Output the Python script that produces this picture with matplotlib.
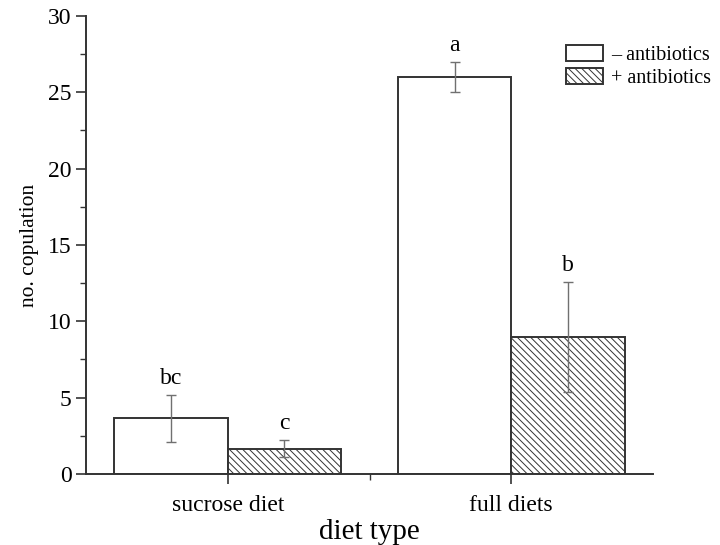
import numpy as np
import matplotlib
matplotlib.use("Agg")
import matplotlib.pyplot as plt
from matplotlib.ticker import MultipleLocator, FixedLocator

# data
groups = ["sucrose diet", "full diets"]
no_abx = [3.65, 26.0]
no_abx_err = [1.53, 1.0]
with_abx = [1.65, 9.0]
with_abx_err = [0.57, 3.6]
letters_no = ["bc", "a"]
letters_with = ["c", "b"]

plt.rcParams['font.family'] = ['Liberation Serif', 'DejaVu Serif']
plt.rcParams['hatch.linewidth'] = 0.7
plt.rcParams['hatch.color'] = '#555555'

fig = plt.figure(figsize=(7.2, 5.45), dpi=100)
ax = fig.add_axes([0.1194, 0.1303, 0.7876, 0.8404])

x = np.array([1, 2])
w = 0.4
ec = '#333333'
b1 = ax.bar(x - w/2, no_abx, w, color='white', edgecolor=ec, linewidth=1.4,
            label='\u2013 antibiotics')
b2 = ax.bar(x + w/2, with_abx, w, color='white', edgecolor=ec, linewidth=1.4,
            hatch='\\' * 5, label='+ antibiotics')
ax.errorbar(x - w/2, no_abx, yerr=no_abx_err, fmt='none', ecolor='#707070',
            elinewidth=1.0, capsize=3.6, capthick=1.0)
ax.errorbar(x + w/2, with_abx, yerr=with_abx_err, fmt='none', ecolor='#707070',
            elinewidth=1.0, capsize=3.6, capthick=1.0)

for xi, v, e, t in zip(x - w/2, no_abx, no_abx_err, letters_no):
    ax.text(xi, v + e + 0.4, t, ha='center', va='bottom', fontsize=17)
for xi, v, e, t in zip(x + w/2, with_abx, with_abx_err, letters_with):
    ax.text(xi, v + e + 0.4, t, ha='center', va='bottom', fontsize=17)

ax.set_xlim(0.5, 2.5)
ax.set_ylim(0, 30)
ax.yaxis.set_major_locator(MultipleLocator(5))
ax.yaxis.set_minor_locator(MultipleLocator(2.5))
ax.set_xticks(x)
ax.set_xticklabels(groups)
ax.xaxis.set_minor_locator(FixedLocator([1.5]))

for s in ['top', 'right']:
    ax.spines[s].set_visible(False)
for s in ['left', 'bottom']:
    ax.spines[s].set_linewidth(1.4)
    ax.spines[s].set_color('#333333')
ax.tick_params(which='major', direction='out', length=7, width=1.2,
               color='#333333', labelsize=17)
ax.tick_params(which='minor', direction='out', length=4, width=1.0,
               color='#333333')
ax.tick_params(axis='x', labelsize=17, pad=8)

ax.set_ylabel('no. copulation', fontsize=15.5, labelpad=6)
ax.set_xlabel('diet type', fontsize=21, labelpad=2)

ax.legend(loc='upper left', bbox_to_anchor=(566/720, 1 - 45/545),
          bbox_transform=fig.transFigure, frameon=False,
          fontsize=14.5, handlelength=1.85, handleheight=0.85, handletextpad=0.4,
          labelspacing=0.15, borderpad=0, borderaxespad=0)

fig.savefig('out.png', dpi=100)
